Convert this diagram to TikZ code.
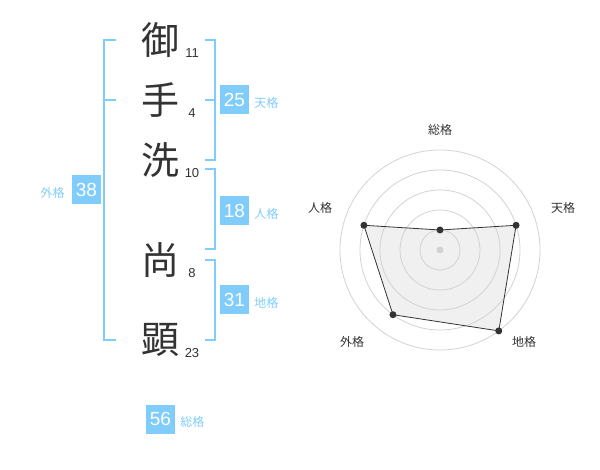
\documentclass[tikz,border=0pt]{standalone}
\usepackage{fontspec}
\setmainfont{Liberation Sans}
\newfontfamily\jp{Noto Sans CJK JP}
\usetikzlibrary{positioning}
\definecolor{kakusky}{RGB}{128,204,250}
\definecolor{inkgray}{RGB}{51,51,51}
\definecolor{ringgray}{RGB}{210,210,210}
\definecolor{areagray}{RGB}{240,240,240}
\tikzset{
  kanji/.style={font=\jp\fontsize{38}{38}\selectfont, text=inkgray, inner sep=0pt},
  strokes/.style={font=\fontsize{13}{13}\selectfont, text=inkgray, inner sep=0pt},
  kakubox/.style={fill=kakusky, text=white, minimum size=29pt, inner sep=0pt, font=\fontsize{19}{19}\selectfont},
  kakulabel/.style={font=\jp\fontsize{12}{12}\selectfont, text=kakusky, inner sep=0pt},
  bracket/.style={draw=kakusky, line width=2pt},
  ring/.style={draw=ringgray, line width=0.8pt},
  radarlabel/.style={font=\jp\fontsize{12}{12}\selectfont, text=inkgray, inner sep=0pt},
  dot/.style={circle, fill=inkgray, inner sep=0pt, minimum size=7pt}
}
\begin{document}
\begin{tikzpicture}[x=1pt, y=-1pt]
  \useasboundingbox (0,0) rectangle (600,470);

  % name
  \node[kanji] (k1) at (160,40)  {御};
  \node[kanji] (k2) at (160,100) {手};
  \node[kanji] (k3) at (160,160) {洗};
  \node[kanji] (k4) at (160,260) {尚};
  \node[kanji] (k5) at (160,340) {顕};
  \node[strokes] (s1) at (192,53)  {11};
  \node[strokes] (s2) at (192,113) {4};
  \node[strokes] (s3) at (192,173) {10};
  \node[strokes] (s4) at (192,273) {8};
  \node[strokes] (s5) at (192,353) {23};

  % brackets
  \draw[bracket] (116,40) -- (104,40) -- (104,340) -- (116,340);
  \draw[bracket] (104,100) -- (116,100);
  \draw[bracket] (205,40) -- (215,40) -- (215,160) -- (205,160);
  \draw[bracket] (205,100) -- (215,100);
  \draw[bracket] (205,169) -- (215,169) -- (215,249) -- (205,249);
  \draw[bracket] (205,260) -- (215,260) -- (215,340) -- (205,340);

  % kaku
  \node[kakubox] (ten)   at (234.5,100) {25};
  \node[kakubox] (jin)   at (234.5,211) {18};
  \node[kakubox] (chi)   at (234.5,300) {31};
  \node[kakubox] (gai)   at (86.5,190)  {38};
  \node[kakubox] (sou)   at (160.5,419) {56};
  \node[kakulabel] [right=5pt of ten, yshift=-3pt] {天格};
  \node[kakulabel] [right=5pt of jin, yshift=-3pt] {人格};
  \node[kakulabel] [right=5pt of chi, yshift=-3pt] {地格};
  \node[kakulabel] [left=7pt of gai, yshift=-3pt]  {外格};
  \node[kakulabel] [right=5pt of sou, yshift=-3pt] {総格};

  % radar
  \coordinate (C) at (440,250);
  \path (C) ++(-90:20)  coordinate (Psou)
        (C) ++(-18:80)  coordinate (Pten)
        (C) ++(54:100)  coordinate (Pchi)
        (C) ++(126:80)  coordinate (Pgai)
        (C) ++(198:80)  coordinate (Pjin);
  \fill[areagray] (Psou) -- (Pten) -- (Pchi) -- (Pgai) -- (Pjin) -- cycle;
  \foreach \r in {20,40,60,80,100}
    \draw[ring] (C) circle (\r);
  \draw[inkgray, line width=0.8pt]
    (Psou) -- (Pten) -- (Pchi) -- (Pgai) -- (Pjin) -- cycle;
  \fill[ringgray] (C) circle (3.5);
  \foreach \p in {Psou,Pten,Pchi,Pgai,Pjin}
    \node[dot] at (\p) {};
  \node[radarlabel] (Lsou) at (440,130) {総格};
  \node[radarlabel] (Lten) at (563,208) {天格};
  \node[radarlabel] (Lchi) at (524,342) {地格};
  \node[radarlabel] (Lgai) at (352,342) {外格};
  \node[radarlabel] (Ljin) at (320,208) {人格};
\end{tikzpicture}
\end{document}
